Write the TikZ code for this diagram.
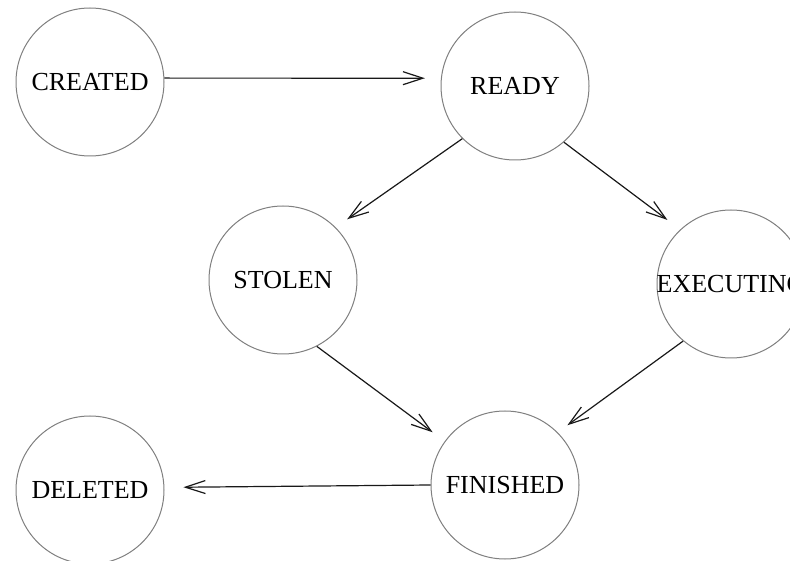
\documentclass[tikz,border=0pt]{standalone}
\usepackage{fontspec}
\setmainfont{Liberation Serif}
\usetikzlibrary{arrows.meta}
\begin{document}
\begin{tikzpicture}[x=1pt,y=1pt,
  state/.style={circle,draw=black!50,line width=1pt,minimum size=148pt,inner sep=0pt,
    font=\fontsize{26}{26}\selectfont,text=black},
  trans/.style={draw=black!90,line width=1.2pt,
    -{Straight Barb[length=20pt,width=13pt,line width=1.2pt]}}]
\clip (0,0) rectangle (790,560);
\fill[white] (0,0) rectangle (790,560);
\node[state] (created) at (90,478) {CREATED};
\node[state] (ready) at (515,474) {READY};
\node[state] (stolen) at (283,280) {STOLEN};
\node[state] (exec) at (731,276) {\makebox[0pt]{EXECUTING}};
\node[state] (finished) at (505,75) {FINISHED};
\node[state] (deleted) at (90,70) {DELETED};
\draw[trans,shorten >=16pt] (created.3) -- (ready.174);
\draw[trans,shorten >=14pt] (ready.225) -- (stolen.45);
\draw[trans,shorten >=16pt] (ready.-49) -- (exec.133);
\draw[trans,shorten >=15pt] (stolen.-63) -- (finished.144);
\draw[trans,shorten >=12pt] (exec.230) -- (finished.45);
\draw[trans,shorten >=19pt] (finished.180) -- (deleted.2);
\end{tikzpicture}
\end{document}
